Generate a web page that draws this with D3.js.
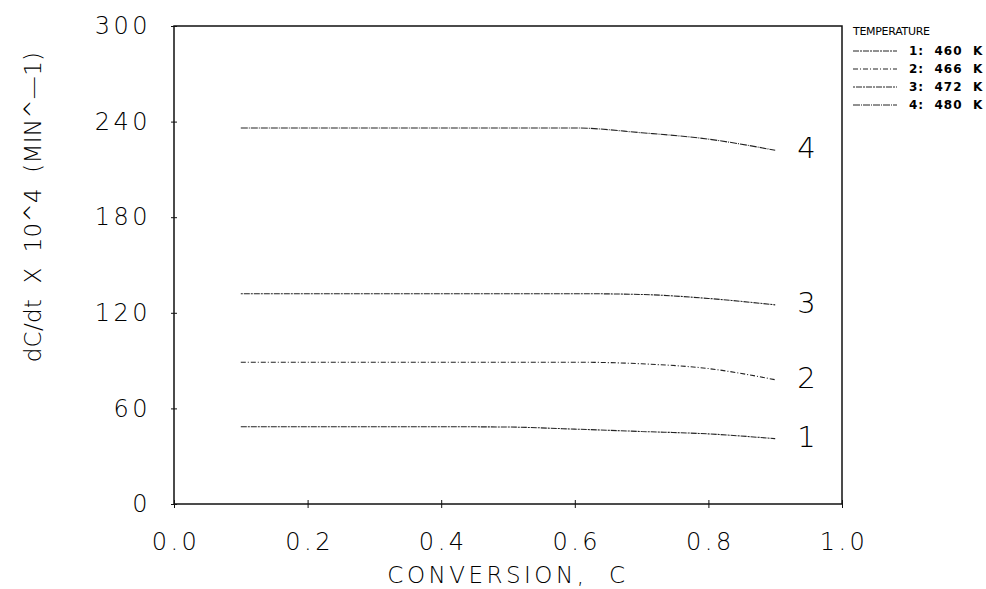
<!DOCTYPE html>
<html lang="en">
<head>
  <meta charset="UTF-8">
  <title>dC/dt vs conversion</title>
  <script src="https://d3js.org/d3.v7.min.js"></script>
  <style>
    body { margin: 0; background: #fff; }
    text { font-family: "DejaVu Sans", sans-serif; fill: #000; }
    .tick-lbl { font-size: 24px; font-weight: 200; letter-spacing: 3.5px; }
    .curve { fill: none; stroke: #222; stroke-width: 1.1; }
  </style>
</head>
<body>
<script>
  // Data
  const conversion = [0.1, 0.2, 0.3, 0.4, 0.5, 0.6, 0.7, 0.8, 0.9];
  const rate460 = [48.5, 48.5, 48.5, 48.5, 48.3, 47, 45.5, 44, 41];
  const rate466 = [89, 89, 89, 89, 89, 89, 88, 85, 78];
  const rate472 = [132, 132, 132, 132, 132, 132, 131.5, 129, 125];
  const rate480 = [236, 236, 236, 236, 236, 236, 233, 229, 222];
  const seriesNames = ['1', '2', '3', '4'];
  const legendLabels = ['1:  460  K', '2:  466  K', '3:  472  K', '4:  480  K'];
  const xTicks = [0, 0.2, 0.4, 0.6, 0.8, 1.0];
  const yTicks = [0, 60, 120, 180, 240, 300];

  const series = [rate460, rate466, rate472, rate480];
  const dashes = ['6,1,2,1', '5,2,1,2', '2,1,6,1', '7,1,1,1'];

  const W = 986, H = 589;
  const margin = {top: 26, right: 144, bottom: 85, left: 174};
  const svg = d3.select('body').append('svg')
    .attr('width', W)
    .attr('height', H);

  const x = d3.scaleLinear().domain([0, 1]).range([margin.left, W - margin.right]);
  const y = d3.scaleLinear().domain([0, 300]).range([H - margin.bottom, margin.top]);

  // frame
  svg.append('rect')
    .attr('x', x(0)).attr('y', y(300))
    .attr('width', x(1) - x(0)).attr('height', y(0) - y(300))
    .attr('fill', 'none').attr('stroke', '#111').attr('stroke-width', 1.5);

  // bottom axis
  const xAxis = svg.append('g')
    .attr('transform', `translate(0,${y(0)})`)
    .call(d3.axisBottom(x).tickValues(xTicks).tickSize(4).tickPadding(25).tickFormat(d3.format('.1f')));
  xAxis.select('.domain').remove();
  xAxis.selectAll('.tick line').attr('y1', -4).attr('stroke', '#111');
  xAxis.selectAll('text').attr('class', 'tick-lbl').attr('dy', '0.71em').attr('dx', '1.5px');

  // left axis
  const yAxis = svg.append('g')
    .attr('transform', `translate(${x(0)},0)`)
    .call(d3.axisLeft(y).tickValues(yTicks).tickSize(3).tickPadding(20));
  yAxis.select('.domain').remove();
  yAxis.selectAll('.tick line').attr('x1', 3).attr('stroke', '#111');
  yAxis.selectAll('text').attr('class', 'tick-lbl');
  svg.selectAll('.tick text').attr('font-size', null).attr('font-family', null).attr('fill', null);

  // axis titles
  svg.append('text')
    .attr('x', (x(0) + x(1)) / 2)
    .attr('y', 576)
    .attr('text-anchor', 'middle')
    .attr('dominant-baseline', 'middle')
    .attr('xml:space', 'preserve')
    .style('font-size', '23px').style('font-weight', 200).style('letter-spacing', '3.5px')
    .text('CONVERSION,  C');

  svg.append('text')
    .attr('transform', 'translate(34,207) rotate(-90)')
    .attr('text-anchor', 'middle')
    .attr('dominant-baseline', 'middle')
    .attr('xml:space', 'preserve')
    .style('font-size', '23px').style('font-weight', 200).style('letter-spacing', '0.3px')
    .text('dC/dt  X  10^4  (MIN^\u20141)');

  // curves
  const line = d3.line()
    .x((d, i) => x(conversion[i]))
    .y(d => y(d))
    .curve(d3.curveMonotoneX);

  series.forEach((s, k) => {
    svg.append('path')
      .attr('class', 'curve')
      .attr('d', line(s))
      .attr('stroke-dasharray', dashes[k]);

    svg.append('text')
      .attr('x', x(conversion[conversion.length - 1]) + 22)
      .attr('y', y(s[s.length - 1]))
      .attr('dominant-baseline', 'middle')
      .style('font-size', '29px').style('font-weight', 200)
      .text(seriesNames[k]);
  });

  // legend
  const lg = svg.append('g');
  lg.append('text')
    .attr('x', 853).attr('y', 32)
    .attr('dominant-baseline', 'middle')
    .style('font-size', '11px')
    .style('letter-spacing', '-0.3px')
    .text('TEMPERATURE');

  legendLabels.forEach((lab, k) => {
    const ly = 51 + k * 18;
    lg.append('line')
      .attr('x1', 853).attr('x2', 897)
      .attr('y1', ly).attr('y2', ly)
      .attr('stroke', '#222').attr('stroke-width', 1)
      .attr('stroke-dasharray', dashes[k]);
    lg.append('text')
      .attr('x', 909).attr('y', ly)
      .attr('dominant-baseline', 'middle')
      .attr('xml:space', 'preserve')
      .style('font-size', '12px').style('font-weight', 'bold')
      .style('letter-spacing', '1px')
      .text(lab);
  });
</script>
</body>
</html>
